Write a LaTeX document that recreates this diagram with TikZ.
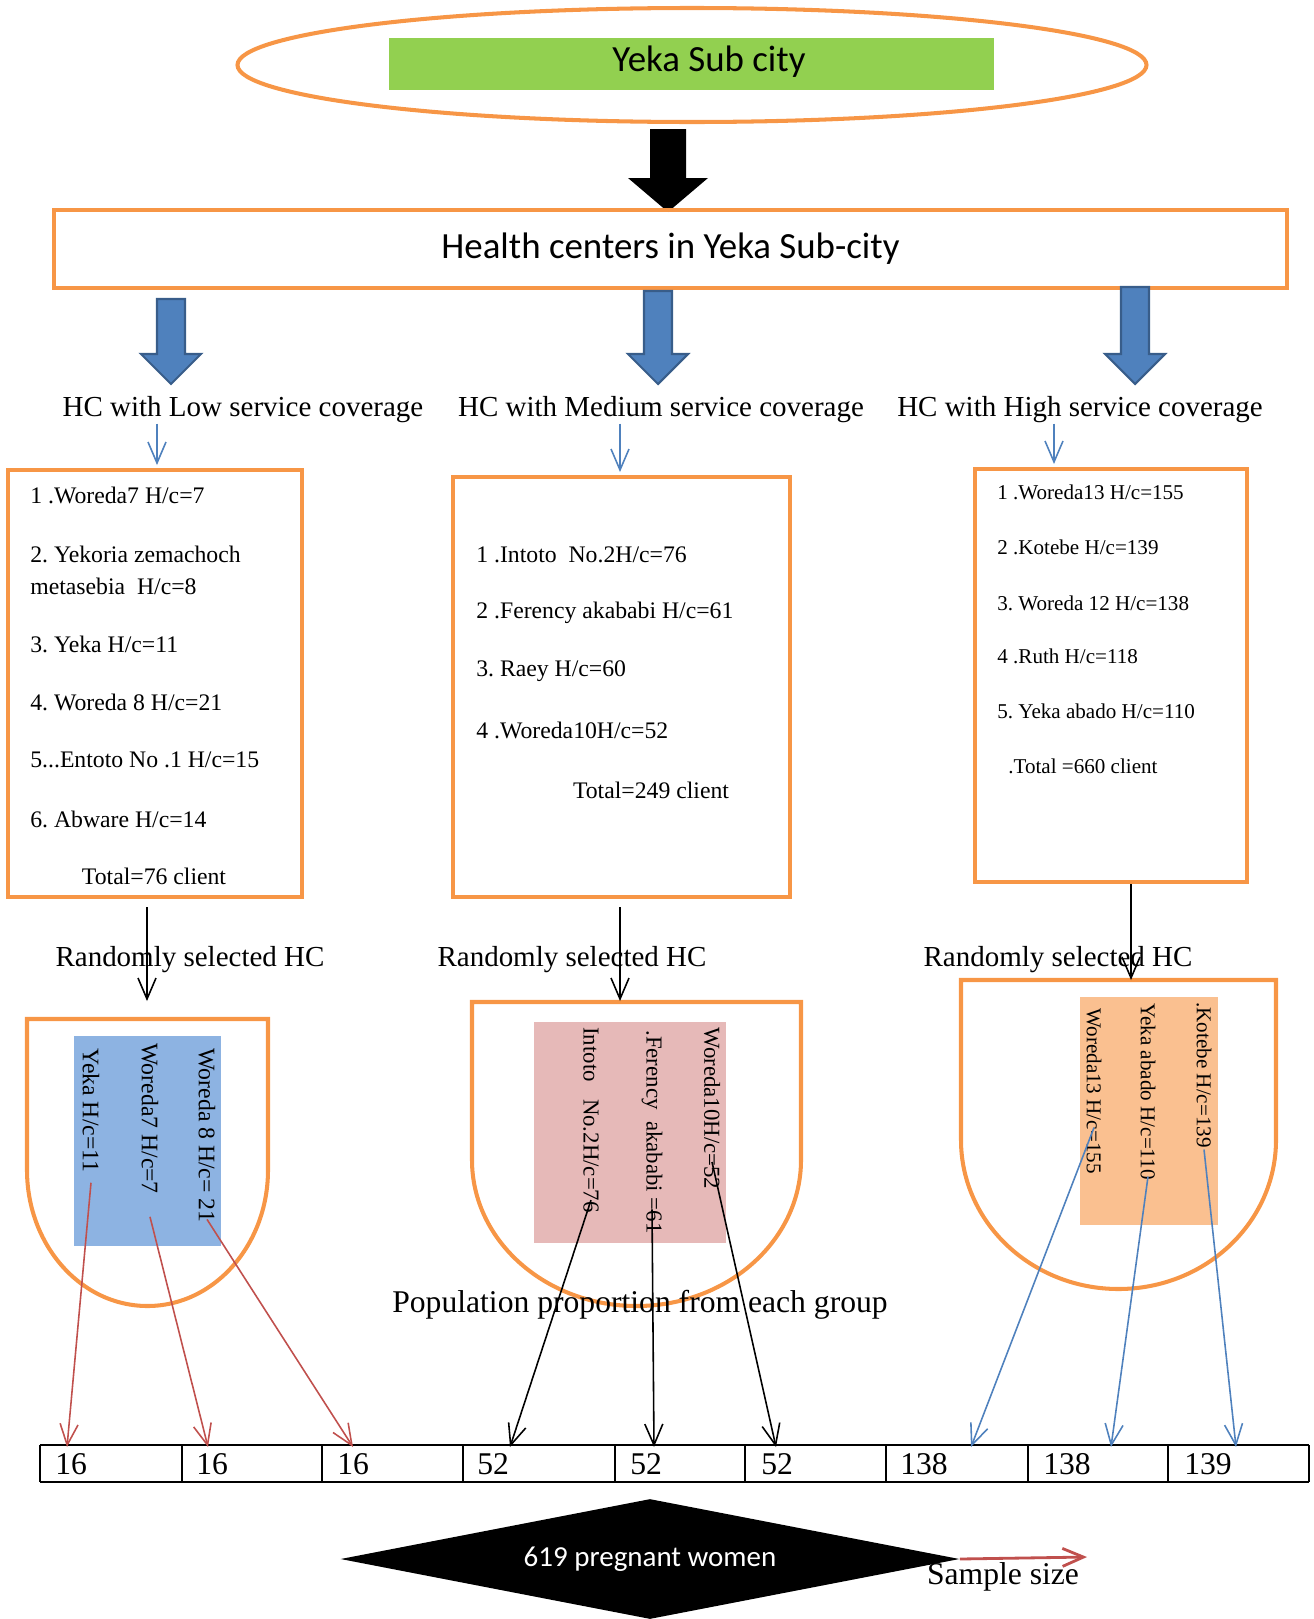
\documentclass[tikz,border=0pt]{standalone}
\usepackage{fontspec}
\setmainfont{Liberation Serif}
\newfontfamily\calfont{Carlito}
\usetikzlibrary{arrows.meta,shapes.geometric,calc}
\definecolor{Frame}{HTML}{F79646}
\definecolor{LeafGreen}{HTML}{92D050}
\definecolor{ArrowBlue}{HTML}{4F81BD}
\definecolor{ArrowEdge}{HTML}{385D8A}
\definecolor{LowFill}{HTML}{8DB3E2}
\definecolor{MedFill}{HTML}{E6B9B8}
\definecolor{HighFill}{HTML}{FAC090}
\definecolor{LinkRed}{HTML}{C0504D}
\frenchspacing

\begin{document}
\begin{tikzpicture}[x=0.02cm, y=-0.02cm,
    frame/.style={draw=Frame, line width=2.3pt},
    heading/.style={font=\fontsize{16.5}{19}\selectfont, inner sep=0pt},
    entry/.style={font=\fontsize{13.5}{16}\selectfont, anchor=west, inner sep=0pt},
    smallentry/.style={font=\fontsize{12}{14}\selectfont, anchor=west, inner sep=0pt},
    upright/.style={rotate=-90, anchor=west, inner sep=0pt},
    tally/.style={font=\fontsize{18}{21}\selectfont, anchor=west, inner sep=0pt},
    ptr/.style={-{Straight Barb[length=0.42cm, width=0.36cm]}, line width=0.9pt},
    fatblue/.style={fill=ArrowBlue, draw=ArrowEdge, line width=1.2pt}
  ]
  \useasboundingbox (0,0) rectangle (1313,1619);

  % sub city
  \node[frame, ellipse, inner sep=0pt, minimum width=909*0.02cm, minimum height=114*0.02cm] (ring) at (692,65) {};
  \node[fill=LeafGreen, inner sep=0pt, minimum width=605*0.02cm, minimum height=52*0.02cm] (bar) at (691.5,64) {};
  \node[font=\calfont\fontsize{21}{25}\selectfont, inner sep=0pt] (city) at (709,62) {Yeka Sub city};
  \fill (650,129) -- (686,129) -- (686,178) -- (708,178) -- (668,212) -- (628,178) -- (650,178) -- cycle;

  \node[frame, minimum width=1233*0.02cm, minimum height=78*0.02cm, font=\calfont\fontsize{21}{25}\selectfont] (hc) at (670.5,249) {Health centers in Yeka Sub-city};

  % three groups
  \foreach \cx/\top in {171/299, 658/291, 1135/287}
    \filldraw[fatblue] (\cx-14,\top) -- (\cx+14,\top) -- (\cx+14,354) -- (\cx+30,354) -- (\cx,384) -- (\cx-30,354) -- (\cx-14,354) -- cycle;

  \node[heading] (low) at (243,410) {HC with Low service coverage};
  \node[heading] (med) at (661,410) {HC with Medium service coverage};
  \node[heading] (high) at (1080,410) {HC with High service coverage};

  \node[frame, minimum width=294*0.02cm, minimum height=427*0.02cm] (lowbox) at (155,683.5) {};
  \node[frame, minimum width=337*0.02cm, minimum height=420*0.02cm] (medbox) at (621.5,687) {};
  \node[frame, minimum width=272*0.02cm, minimum height=413*0.02cm] (highbox) at (1111,675.5) {};

  \coordinate (a1) at (157,465);
  \coordinate (a2) at (620,472);
  \coordinate (a3) at (1054,464);
  \draw[ptr, ArrowBlue] (low.south -| a1) -- (a1);
  \draw[ptr, ArrowBlue] (med.south -| a2) -- (a2);
  \draw[ptr, ArrowBlue] (high.south -| a3) -- (a3);

  \foreach \y/\t [count=\i] in {495/{1 .Woreda7 H/c=7}, 554/{2. Yekoria zemachoch}, 586/{metasebia\ \ H/c=8},
      644/{3. Yeka H/c=11}, 702/{4. Woreda 8 H/c=21}, 760/{5...Entoto No .1 H/c=15}, 819/{6. Abware H/c=14}}
    \node[entry] (low-\i) at (30,\y) {\t};
  \node[entry, anchor=center] (lowtotal) at (154,876) {Total=76 client};

  \foreach \y/\t [count=\i] in {555/{1 .Intoto\ \ No.2H/c=76}, 613/{2 .Ferency akababi H/c=61},
      671/{3. Raey H/c=60}, 730/{4 .Woreda10H/c=52}}
    \node[entry] (med-\i) at (476,\y) {\t};
  \node[entry, anchor=center] (medtotal) at (651,790) {Total=249 client};

  \foreach \y/\t [count=\i] in {492/{1 .Woreda13 H/c=155}, 547/{2 .Kotebe H/c=139}, 603/{3. Woreda 12 H/c=138},
      656/{4 .Ruth H/c=118}, 711/{5. Yeka abado H/c=110}}
    \node[smallentry] (high-\i) at (997,\y) {\t};
  \node[smallentry] (hightotal) at (1008,766) {.Total =660 client};

  % random selection
  \node[heading] (rlow) at (190,960) {Randomly selected HC};
  \node[heading] (rmed) at (572,960) {Randomly selected HC};
  \node[heading] (rhigh) at (1058,960) {Randomly selected HC};

  \draw[frame] (27,1019) -- (27,1170) arc[start angle=180, end angle=0, x radius=120.5, y radius=136] -- (268,1019) -- cycle;
  \draw[frame] (472,1002) -- (472,1160) arc[start angle=180, end angle=0, x radius=164.5, y radius=146] -- (801,1002) -- cycle;
  \draw[frame] (961,980) -- (961,1140) arc[start angle=180, end angle=0, x radius=157.5, y radius=149] -- (1276,980) -- cycle;

  \coordinate (u1) at (147,1001);
  \coordinate (u2) at (620,1001);
  \coordinate (u3) at (1131,980);
  \draw[ptr, shorten <=0.16cm] (lowbox.south -| u1) -- (u1);
  \draw[ptr, shorten <=0.16cm] (medbox.south -| u2) -- (u2);
  \draw[ptr] (highbox.south -| u3) -- (u3);

  \node[fill=LowFill, minimum width=147*0.02cm, minimum height=210*0.02cm] (lowpick) at (147.5,1141) {};
  \node[fill=MedFill, minimum width=192*0.02cm, minimum height=221*0.02cm] (medpick) at (630,1132.5) {};
  \node[fill=HighFill, minimum width=138*0.02cm, minimum height=228*0.02cm] (highpick) at (1149,1111) {};

  \node[upright, font=\fontsize{13.5}{16}\selectfont] (yeka) at (91,1048) {Yeka H/c=11};
  \node[upright, font=\fontsize{13.5}{16}\selectfont] (wor7) at (150,1043) {Woreda7 H/c=7};
  \node[upright, font=\fontsize{13.5}{16}\selectfont] (wor8) at (207,1048) {Woreda 8 H/c= 21};
  \node[upright, font=\fontsize{13}{16}\selectfont] (intoto) at (591,1027) {Intoto\ \ \ No.2H/c=76};
  \node[upright, font=\fontsize{13}{16}\selectfont] (ferency) at (652,1030) {.Ferency\ \ akababi =61};
  \node[upright, font=\fontsize{13}{16}\selectfont] (wor10) at (712,1027) {Woreda10H/c=52};
  \node[upright, font=\fontsize{12}{14}\selectfont] (wor13) at (1094,1008) {Woreda13 H/c=155};
  \node[upright, font=\fontsize{12}{14}\selectfont] (abado) at (1148,1003) {Yeka abado H/c=110};
  \node[upright, font=\fontsize{12}{14}\selectfont] (kotebe) at (1204,1002) {.Kotebe H/c=139};

  \node[font=\fontsize{18}{21}\selectfont, inner sep=0pt] (prop) at (640,1305) {Population proportion from each group};

  % sample row
  \draw[line width=1.4pt] (40,1445) -- (1309,1445) (40,1482) -- (1309,1482);
  \foreach \x in {40, 182, 322, 463, 615, 745, 886, 1028, 1168, 1309}
    \draw[line width=0.6pt] (\x,1445) -- (\x,1482);
  \foreach \x/\t [count=\i] in {55/16, 196/16, 337/16, 477/52, 630/52, 761/52, 900/138, 1043/138, 1184/139}
    \node[tally] (n\i) at (\x,1464) {\t};

  \foreach \x [count=\i] in {67, 208, 353, 510, 654, 776, 971, 1111, 1236}
    \coordinate (e\i) at (\x,1447);

  \foreach \n/\f/\e in {yeka/1.08/e1, wor7/1.15/e2, wor8/0.98/e3}
    \draw[ptr, LinkRed] ($(\n.west)!\f!(\n.east)$) -- (\e);
  \foreach \n/\f/\e in {intoto/0.93/e4, ferency/0.88/e5, wor10/0.83/e6}
    \draw[ptr] ($(\n.west)!\f!(\n.east)$) -- (\e);
  \foreach \n/\f/\e in {wor13/0.72/e7, abado/0.98/e8, kotebe/1.01/e9}
    \draw[ptr, ArrowBlue] ($(\n.west)!\f!(\n.east)$) -- (\e);

  \node[diamond, fill=black, inner sep=0pt, aspect=5, minimum width=619*0.02cm, minimum height=120*0.02cm,
    text=white, font=\calfont\fontsize{16.5}{20}\selectfont] (sample) at (650,1559) {619 pregnant women};
  \coordinate (sz) at (1087,1557);
  \draw[ptr, LinkRed, line width=1.6pt] (sample.east) -- (sz);
  \node[font=\fontsize{18}{21}\selectfont, inner sep=0pt] (szlabel) at (1003,1577) {Sample size};
\end{tikzpicture}
\end{document}
